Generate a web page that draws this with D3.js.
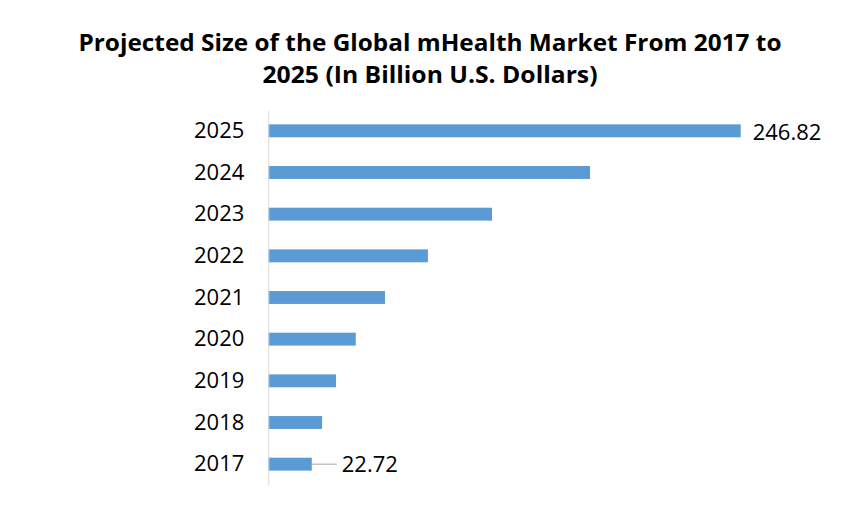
<!DOCTYPE html>
<html>
<head>
<meta charset="utf-8">
<script src="https://cdn.jsdelivr.net/npm/d3@7"></script>
<style>
  html, body { margin: 0; padding: 0; background: #fff; }
  svg { display: block; }
</style>
</head>
<body>
<svg id="chart" width="844" height="519"></svg>
<script>
const years = ["2017", "2018", "2019", "2020", "2021", "2022", "2023", "2024", "2025"];
const values = [22.72, 28.1, 35.4, 45.7, 61.0, 83.4, 116.9, 168.1, 246.82];
const labelledYears = ["2017", "2025"];
const titleLines = ["Projected Size of the Global mHealth Market From 2017 to", "2025 (In Billion U.S. Dollars)"];

const data = years.map((y, i) => ({ year: y, value: values[i] }));
const svg = d3.select("#chart");
const font = "'Open Sans', 'DejaVu Sans', sans-serif";

const x = d3.scaleLinear().domain([0, 250]).range([268.3, 268.3 + 250 * (472.4 / 246.82)]);
const y = d3.scaleBand().domain(years.slice().reverse()).range([110, 485]).paddingInner(0.69).paddingOuter(0.345);

// Title
const titleY = [51, 83];
const titleW = [703, 335];
svg.selectAll("text.title").data(titleLines).join("text")
  .attr("class", "title")
  .attr("x", 430)
  .attr("y", (d, i) => titleY[i])
  .attr("text-anchor", "middle")
  .attr("font-family", font)
  .attr("font-weight", "bold")
  .attr("font-size", 23)
  .attr("textLength", (d, i) => titleW[i])
  .attr("lengthAdjust", "spacingAndGlyphs")
  .attr("fill", "#000")
  .text(d => d);

// Bars
svg.append("g").selectAll("rect").data(data).join("rect")
  .attr("x", x(0))
  .attr("y", d => y(d.year))
  .attr("width", d => x(d.value) - x(0))
  .attr("height", y.bandwidth())
  .attr("fill", "#5B9BD5");

// Axis
const axis = svg.append("g")
  .attr("transform", `translate(${x(0)},0)`)
  .call(d3.axisLeft(y).tickSize(0).tickPadding(24));
axis.select(".domain").attr("stroke", "#d9d9d9").attr("stroke-width", 1);
axis.selectAll("text")
  .attr("font-family", font)
  .attr("font-size", 22)
  .attr("fill", "#000");

// Value labels
const lab = data.filter(d => labelledYears.includes(d.year));
const g = svg.append("g");
lab.forEach(d => {
  const cy = y(d.year) + y.bandwidth() / 2;
  if (d.year === "2017") {
    g.append("line")
      .attr("x1", x(d.value)).attr("x2", x(d.value) + 25)
      .attr("y1", cy).attr("y2", cy)
      .attr("stroke", "#a6a6a6").attr("stroke-width", 1);
    g.append("text")
      .attr("x", x(d.value) + 30)
      .attr("y", cy)
      .attr("dy", "0.35em")
      .attr("font-family", font).attr("font-size", 22).attr("fill", "#000")
      .text(d.value.toFixed(2));
  } else {
    g.append("text")
      .attr("x", x(d.value) + 12)
      .attr("y", cy + 1)
      .attr("dy", "0.35em")
      .attr("font-family", font).attr("font-size", 22).attr("fill", "#000")
      .text(d.value.toFixed(2));
  }
});
</script>
</body>
</html>
